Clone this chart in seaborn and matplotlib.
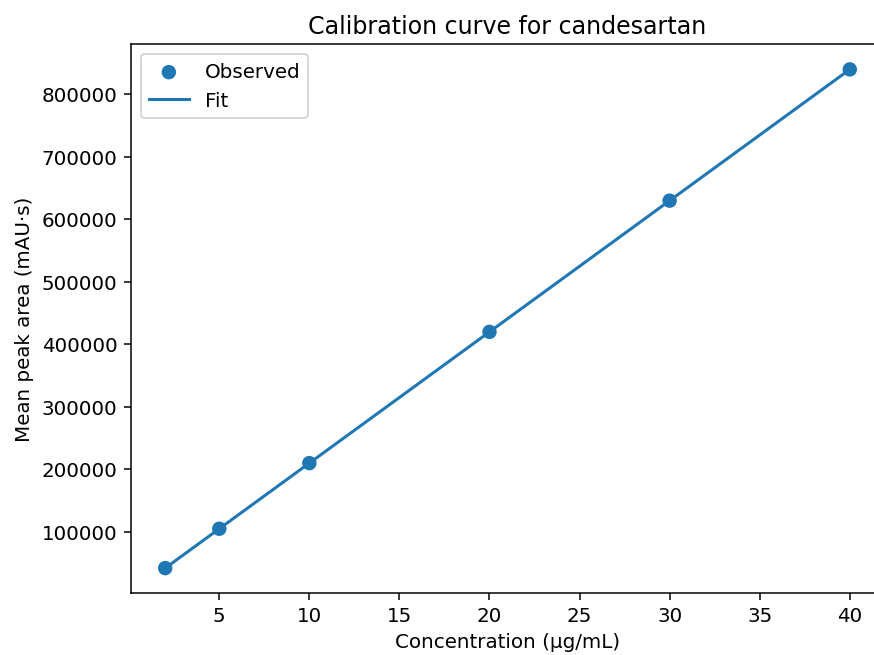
import numpy as np
import pandas as pd
import matplotlib
matplotlib.use("Agg")
import matplotlib.pyplot as plt
import seaborn as sns

concentration = [2, 5, 10, 20, 30, 40]
peak_area = [42000, 105000, 210000, 420000, 630000, 840000]

df = pd.DataFrame({"conc": concentration, "area": peak_area})
slope, intercept = np.polyfit(df["conc"], df["area"], 1)
fit_df = pd.DataFrame({"conc": df["conc"], "fit": slope * df["conc"] + intercept})

plt.rcParams["font.size"] = 10.5
dpi = 874 / 6.4
fig = plt.figure(figsize=(6.4, 4.8), dpi=dpi)
ax = fig.add_axes([131 / 874, 1 - 594 / 656, (884 - 131) / 874, (594 - 45) / 656])

sns.scatterplot(data=df, x="conc", y="area", ax=ax, s=58, color="#1f77b4",
                edgecolor="none", label="Observed", zorder=3)
sns.lineplot(data=fit_df, x="conc", y="fit", ax=ax, color="#1f77b4",
             linewidth=1.6, label="Fit")

ax.set_title("Calibration curve for candesartan", fontsize=12.5)
ax.set_xlabel("Concentration (µg/mL)", fontsize=10.5)
ax.set_ylabel("Mean peak area (mAU·s)", fontsize=10.5)
ax.tick_params(labelsize=10.5)
ax.legend(loc="upper left", fontsize=10.5)
ax.ticklabel_format(axis="y", style="plain")
ax.spines["right"].set_visible(False)

fig.savefig("out.png", dpi=dpi)
